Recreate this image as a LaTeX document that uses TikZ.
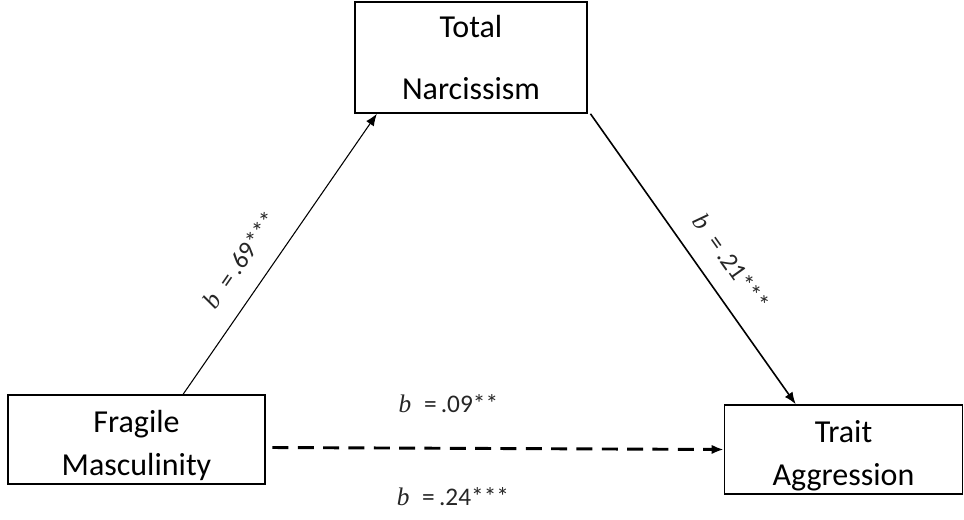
\documentclass[tikz,border=0pt]{standalone}
\usepackage{fontspec}
\setmainfont{Carlito}
\newfontfamily\coeffont{Liberation Serif}
\usepackage{tikz}
\usetikzlibrary{arrows.meta, positioning, calc}

\newcommand{\bcoef}{{\coeffont\itshape b}}

\tikzset{
    varbox/.style={draw, line width=1.2pt, fill=white, align=center, font=\fontsize{24}{24}\selectfont},
    effect/.style={-{Latex[length=9pt, width=7pt]}},
    coef/.style={font=\fontsize{19}{19}\selectfont, text=black!85}
}

\begin{document}
\begin{tikzpicture}[x=0.75pt, y=-0.75pt]
    \useasboundingbox (0,0) rectangle (964,519);

    % Variables
    \node[varbox, minimum width=232*0.75pt, minimum height=111*0.75pt] (tn) at (471,57.5)
        {Total\\[22pt]Narcissism};
    \node[varbox, inner ysep=0pt, minimum width=257*0.75pt, minimum height=89*0.75pt] (fm) at (136.5,439.5)
        {\rule{0pt}{26pt}Fragile\\[8pt]Masculinity};
    \node[varbox, inner ysep=0pt, minimum width=238*0.75pt, minimum height=89*0.75pt] (ta) at (843.5,449.5)
        {\rule{0pt}{26pt}Trait\\[8pt]Aggression};

    % a path: predictor to mediator
    \draw[effect, line width=0.8pt] ([xshift=35pt]fm.north) -- ([xshift=17pt]tn.south west)
        node[pos=0.42, sloped, above=22pt, anchor=center, coef] {\bcoef\enspace=\,.69***};

    % b path: mediator to outcome
    \draw[effect, line width=1.2pt] ([xshift=2pt]tn.south east) -- ([xshift=54pt]ta.north west)
        node[pos=0.57, sloped, above=22pt, anchor=center, coef] {\bcoef\enspace=\,.21***};

    % c' path (direct) and c (total)
    \draw[effect, dashed, dash pattern=on 12pt off 7pt, line width=2.2pt] ([shift={(5pt,-6pt)}]fm.east) -- (ta.west)
        node[pos=0.39, above=22pt, coef] {\bcoef\enspace=\,.09**}
        node[pos=0.40, below=25pt, coef] {\bcoef\enspace=\,.24***};
\end{tikzpicture}
\end{document}
